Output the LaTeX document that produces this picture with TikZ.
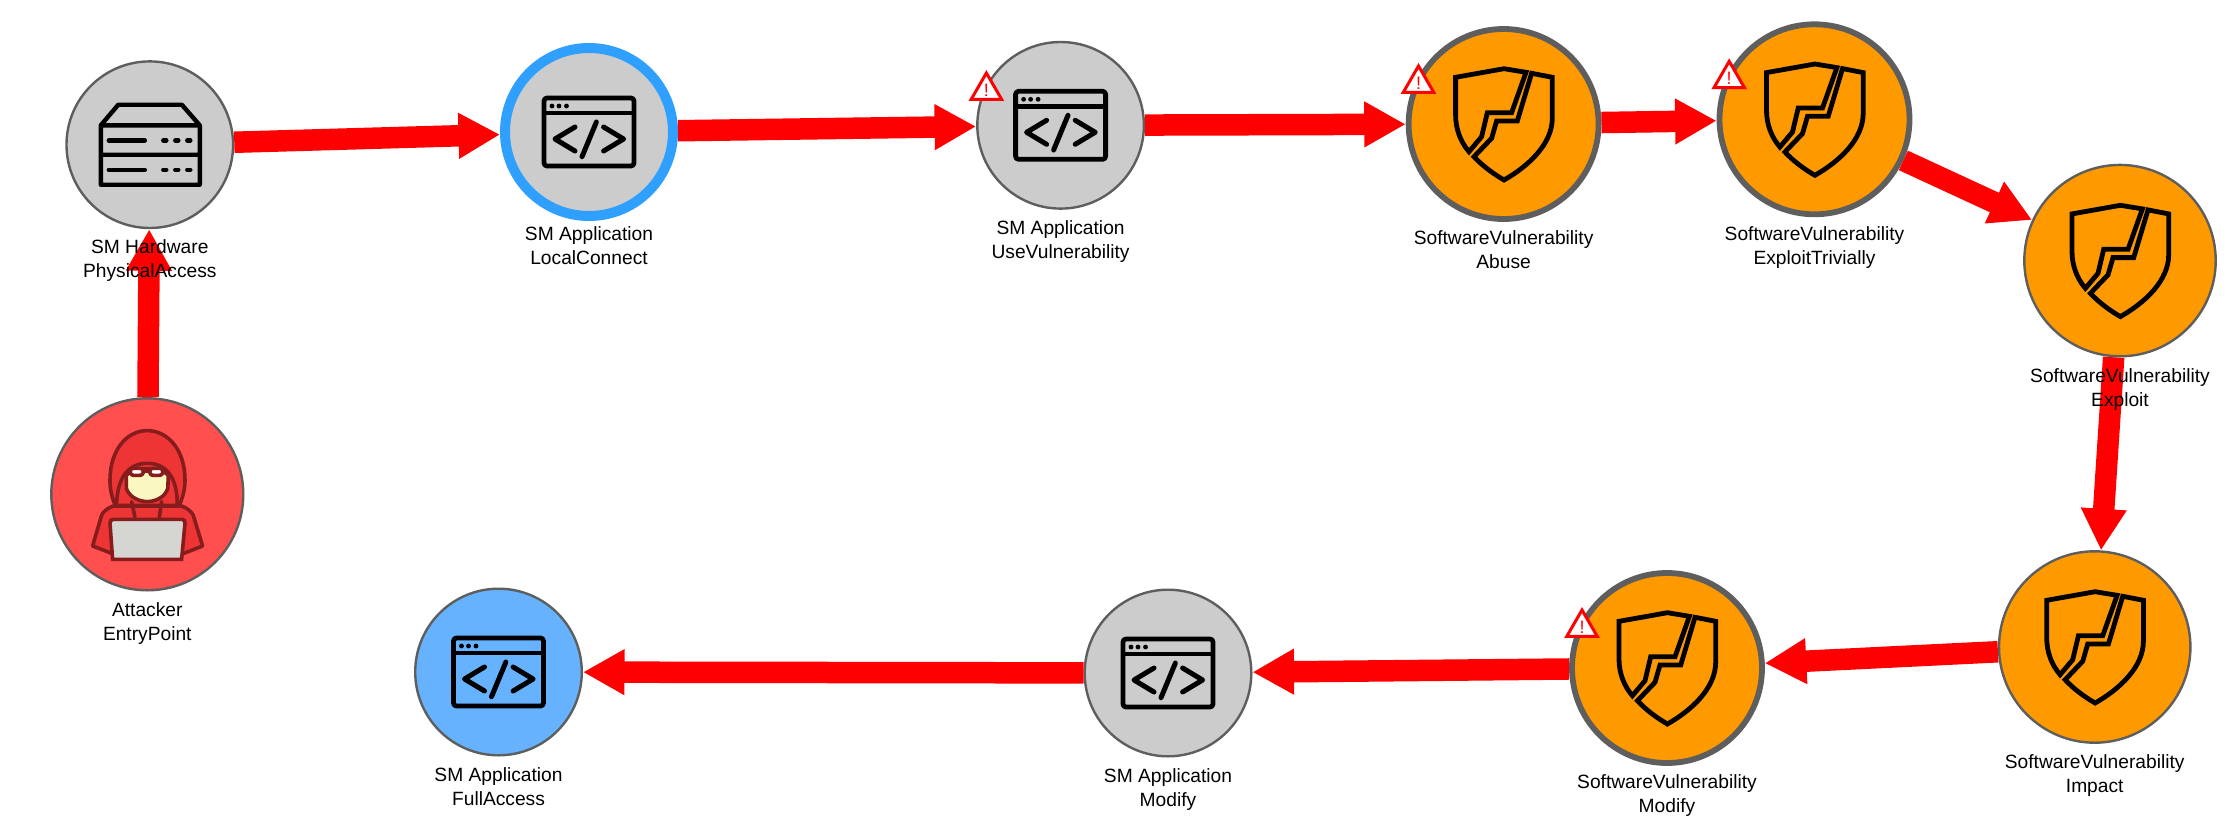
\documentclass[tikz,border=0pt]{standalone}
\usepackage{fontspec}
\setmainfont{Liberation Sans}
\usetikzlibrary{positioning,arrows.meta,shapes.geometric}

\definecolor{ringgrey}{HTML}{5E5E5E}
\definecolor{ringblue}{HTML}{2FA0FF}
\definecolor{fillorange}{HTML}{FF9900}
\definecolor{fillblue}{HTML}{66B2FF}
\definecolor{fillred}{HTML}{FF4F4F}
\definecolor{hackerdark}{HTML}{871C1C}
\definecolor{hackerhood}{HTML}{EE3536}
\definecolor{hackerface}{HTML}{FAF8C0}
\definecolor{hackerlaptop}{HTML}{D5D6D1}

% one unit is one pixel of the picture, half a point on the page
\tikzset{
    appicon/.pic={
        \draw[line width=2.4pt,line join=round,rounded corners=1.5pt] (-45,-34) rectangle (45,34);
        \draw[line width=2.4pt] (-45,-19) -- (45,-19);
        \foreach \x in {-37,-30,-22.5}
            \fill (\x,-26) circle (1.2pt);
        \draw[line width=2.5pt,line cap=round,line join=round]
            (-14,-5) -- (-34,7) -- (-14,19)
            (14.6,-5) -- (34.6,7) -- (14.6,19)
            (7.4,-10) -- (-7,24.7);
    },
    servericon/.pic={
        \draw[line width=2.2pt,line join=round]
            (-49,-19.4) -- (-31.5,-40) -- (32,-40) -- (50,-19.4) -- (50,40) -- (-49,40) -- cycle
            (-49,-19.4) -- (50,-19.4) (-49,10) -- (50,10);
        \foreach \y in {-4.3,25} {
            \draw[line width=2.2pt,line cap=round] (-41,\y) -- (-5,\y);
            \foreach \x in {15,27,39}
                \draw[line width=2.2pt,line cap=round] (\x-1.5,\y) -- (\x+1.5,\y);
        }
    },
    shieldicon/.pic={
        \draw[line width=2.4pt,line join=miter]
            (0.4,-55.3) -- (-48,-46.7) -- (-48,-9)
            .. controls (-48,5) and (-43,18) .. (-34.6,27.7)
            -- (-22,12.7) -- (-16.3,-11.3) -- (8,-11.3) -- (22.4,-51.7) -- cycle
            (28,-50.7) -- (48.7,-46.7) -- (48.7,-6)
            .. controls (48.7,20) and (25,42) .. (0.4,56)
            .. controls (-10,50) and (-21,42) .. (-29.6,32.7)
            -- (-12,14.3) -- (-7,-3) -- (13.7,-3) -- cycle;
    },
    hackericon/.pic={
        \begin{scope}[draw=hackerdark,line width=1.8pt,line join=round,line cap=round]
            % body and hood
            \filldraw[fill=hackerhood] (-24,11.7) -- (-34,11.7) .. controls (-40,14) and (-44,17) .. (-45.7,21)
                -- (-54.7,51.7) -- (-35.7,59) -- (36.7,59) -- (55.3,51.7) -- (46,21)
                .. controls (44,17) and (40,14) .. (34.3,11.7) -- (24.3,11.7) -- cycle;
            \filldraw[fill=hackerhood] (-32,11) .. controls (-36,2) and (-37.3,-6) .. (-37.3,-14.3)
                .. controls (-37.3,-45) and (-20,-63.7) .. (0,-63.7)
                .. controls (20,-63.7) and (37.7,-45) .. (37.7,-14.3)
                .. controls (37.7,-6) and (36,2) .. (32,11) -- cycle;
            \draw (-30.7,10) .. controls (-30,-18) and (-18,-31) .. (0,-31)
                .. controls (18,-31) and (30,-18) .. (30,10);
            % face and glasses
            \filldraw[fill=hackerface] (-21,-19) -- (-21,-6) .. controls (-18,3) and (-8,7.3) .. (0,7.3)
                .. controls (8,7.3) and (18,3) .. (20.5,-6) -- (21,-19)
                .. controls (14,-28) and (-14,-28) .. cycle;
            \draw (-15.7,7.3) -- (-12.3,23) (14.3,7.3) -- (12,23);
            \filldraw[fill=white,rounded corners=1.5pt] (-17,-26) rectangle (-4,-19);
            \filldraw[fill=white,rounded corners=1.5pt] (2.5,-26) rectangle (15.5,-19);
            \draw (-4,-23) -- (2.5,-23);
            % laptop
            \filldraw[fill=hackerlaptop,line join=miter] (-34.7,65) -- (-37.3,29)
                .. controls (-37.5,26.5) and (-36,25) .. (-34,25) -- (34.5,25)
                .. controls (36.5,25) and (37.9,26.5) .. (37.7,29) -- (34.3,65) -- cycle;
        \end{scope}
    }
}

\begin{document}
\begin{tikzpicture}[x=0.5pt,y=-0.5pt]
            \tikzstyle{state}=[circle,draw=ringgrey,line width=1.2pt,minimum size=83.3pt,inner sep=0pt,fill=black!20]
            \tikzstyle{vuln}=[state,minimum size=95.7pt,fill=fillorange]
            \tikzstyle{vuln hit}=[vuln,minimum size=95pt,line width=2.9pt]
            \tikzstyle{goal}=[state,fill=fillblue]
            \tikzstyle{entry}=[state,minimum size=96pt,fill=fillred]
            \tikzstyle{active}=[state,minimum size=84pt,draw=ringblue,line width=5pt]
            \tikzstyle{warn}=[regular polygon,regular polygon sides=3,draw=red,fill=white,line width=1.5pt,minimum size=16.6pt,inner sep=0pt,text=red,font=\fontsize{9pt}{9pt}\selectfont]
            \tikzstyle{annot}=[align=center,inner sep=0pt,outer sep=0pt,font=\fontsize{9.6pt}{12pt}\selectfont,execute at begin node=\strut]
            \tikzstyle{attack}=[draw=red,line width=10.75pt,-{Triangle[length=20.75pt,width=21.5pt]}]

            \useasboundingbox (0,0) rectangle (2227,819);

            % Draw the circles
            \node[entry] (entry) at (147.3,494.3) {};
            \node[state] (hardware) at (149.8,144.7) {};
            \node[active] (local) at (589,132) {};
            \node[state] (use) at (1060.6,125.3) {};
            \node[vuln hit] (abuse) at (1503.6,124) {};
            \node[vuln hit] (trivial) at (1814.5,119.3) {};
            \node[vuln] (exploit) at (2120,260.6) {};
            \node[vuln] (impact) at (2094.7,647) {};
            \node[vuln hit] (modvuln) at (1667,668) {};
            \node[state] (modapp) at (1168,673) {};
            \node[goal] (full) at (498.5,672) {};

            % Icons inside the circles
            \pic at (entry) {hackericon};
            \pic at (hardware) {servericon};
            \foreach \name in {local,use,modapp,full}
                \pic at (\name) {appicon};
            \foreach \name in {abuse,trivial,exploit,impact,modvuln}
                \pic at (\name) {shieldicon};

            % Warning marks
            \node[warn] (warn-use) at (986.4,90.5) {!};
            \node[warn] (warn-abuse) at (1418.5,83.5) {!};
            \node[warn] (warn-trivial) at (1729.2,78.8) {!};
            \node[warn] (warn-modvuln) at (1582,627.5) {!};

            % Connect the steps of the path
            \foreach \source/\dest in {entry/hardware,hardware/local,local/use,use/abuse,abuse/trivial,
                    trivial/exploit,exploit/impact,impact/modvuln,modvuln/modapp,modapp/full}
                \path[attack] (\source) -- (\dest);

            % Annotate the circles
            \foreach \name/\gap/\first/\second in {entry/5.4pt/Attacker/EntryPoint,
                    hardware/5.4pt/SM Hardware/PhysicalAccess,
                    local/2.75pt/SM Application/LocalConnect,
                    use/5.4pt/SM Application/UseVulnerability,
                    abuse/4.5pt/SoftwareVulnerability/Abuse,
                    trivial/4.5pt/SoftwareVulnerability/ExploitTrivially,
                    exploit/5.4pt/SoftwareVulnerability/Exploit,
                    impact/5.4pt/SoftwareVulnerability/Impact,
                    modvuln/4.5pt/SoftwareVulnerability/Modify,
                    modapp/5.4pt/SM Application/Modify,
                    full/5.4pt/SM Application/FullAccess}
                \node[annot,below=\gap of \name] (label-\name) {\first\\\second};
        \end{tikzpicture}
\end{document}
